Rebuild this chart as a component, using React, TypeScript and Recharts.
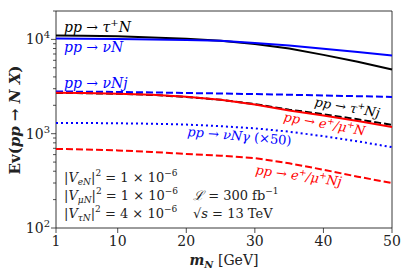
import React from "react";
import { LineChart, Line, XAxis, YAxis, ReferenceArea } from "recharts";

const masses = [1, 5, 10, 15, 20, 25, 30, 35, 40, 45, 50];
const tauN = [11000, 10950, 10800, 10500, 10150, 9700, 8950, 8000, 6850, 5800, 4800];
const nuN = [10200, 10150, 10100, 10000, 9850, 9650, 9150, 8600, 7950, 7350, 6750];
const nuNj = [2800, 2790, 2770, 2740, 2700, 2670, 2630, 2590, 2540, 2500, 2450];
const tauNj = [2700, 2690, 2650, 2580, 2450, 2290, 2060, 1800, 1610, 1420, 1240];
const lepN = [2720, 2700, 2660, 2590, 2460, 2290, 2040, 1760, 1560, 1360, 1180];
const nuNgamma = [1300, 1298, 1290, 1275, 1250, 1200, 1140, 1050, 940, 830, 720];
const lepNj = [690, 680, 665, 640, 610, 585, 550, 485, 415, 350, 300];

const xTicks = [1, 10, 20, 30, 40, 50];
const yTicks = [
  100, 200, 300, 400, 500, 600, 700, 800, 900,
  1000, 2000, 3000, 4000, 5000, 6000, 7000, 8000, 9000,
  10000, 20000,
];

const data = masses.map((m, i) => ({
  m,
  tauN: tauN[i],
  nuN: nuN[i],
  nuNj: nuNj[i],
  tauNj: tauNj[i],
  lepN: lepN[i],
  nuNgamma: nuNgamma[i],
  lepNj: lepNj[i],
}));

const SERIF = "'DejaVu Serif', 'Liberation Serif', serif";
const BLUE = "#0000ff";
const RED = "#ff0000";
const INK = "#222";

const YTick = ({ x, y, payload }: any) => {
  const lg = Math.log10(payload.value);
  const exp = Math.round(lg);
  const major = Math.abs(lg - exp) < 1e-6;
  return (
    <g>
      <line x1={x} x2={x - (major ? 5 : 3)} y1={y} y2={y} stroke={INK} strokeWidth={0.8} />
      {major && (
        <text x={x - 6} y={y + 5} textAnchor="end" fontSize={14} fontFamily={SERIF} fill={INK}>
          10
          <tspan dy={-6} fontSize={10}>{exp}</tspan>
        </text>
      )}
    </g>
  );
};

const XTick = ({ x, y, payload }: any) => (
  <g>
    <line x1={x} x2={x} y1={y} y2={y + 5} stroke={INK} strokeWidth={0.8} />
    <text x={x} y={y + 18} textAnchor="middle" fontSize={14} fontFamily={SERIF} fill={INK}>
      {payload.value}
    </text>
  </g>
);

const Proc = ({ x, y, color, size = 14, rot = 0, children }: any) => (
  <text
    x={x}
    y={y}
    fill={color}
    fontSize={size}
    fontFamily={SERIF}
    fontStyle="italic"
    transform={rot ? `rotate(${rot} ${x} ${y})` : undefined}
  >
    {children}
  </text>
);

const Coupling = ({ y, sub, val }: any) => (
  <text x={64} y={y}>
    |<tspan fontStyle="italic">V</tspan>
    <tspan fontStyle="italic" fontSize={9} dy={3}>{sub}</tspan>
    <tspan dy={-3}>|</tspan>
    <tspan fontSize={9} dy={-6}>2</tspan>
    <tspan dy={6}> = {val} × 10</tspan>
    <tspan fontSize={9} dy={-6}>−6</tspan>
  </text>
);

export default function App() {
  return (
    <div style={{ position: "absolute", left: 0, top: 0, width: 407, height: 279, background: "#fff" }}>
      <LineChart width={407} height={279} data={data} margin={{ top: 11, right: 15, left: 0, bottom: 0 }}>
        <XAxis
          dataKey="m"
          type="number"
          domain={[1, 50]}
          ticks={xTicks}
          tick={<XTick />}
          tickSize={0}
          tickMargin={0}
          tickLine={false}
          axisLine={false}
          height={51}
          interval={0}
        />
        <YAxis
          scale="log"
          type="number"
          domain={[100, 20000]}
          ticks={yTicks}
          tick={<YTick />}
          tickSize={0}
          tickMargin={0}
          tickLine={false}
          axisLine={false}
          width={56}
          interval={0}
          allowDataOverflow
        />
        <ReferenceArea x1={1} x2={50} y1={100} y2={20000} fill="none" stroke={INK} strokeWidth={0.9} ifOverflow="visible" />
        <Line dataKey="tauN" stroke="#000" strokeWidth={2} dot={false} isAnimationActive={false} />
        <Line dataKey="nuN" stroke={BLUE} strokeWidth={2} dot={false} isAnimationActive={false} />
        <Line dataKey="tauNj" stroke="#000" strokeWidth={2} strokeDasharray="7 3" dot={false} isAnimationActive={false} />
        <Line dataKey="nuNj" stroke={BLUE} strokeWidth={2} strokeDasharray="7 3" dot={false} isAnimationActive={false} />
        <Line dataKey="lepN" stroke={RED} strokeWidth={2} dot={false} isAnimationActive={false} />
        <Line dataKey="nuNgamma" stroke={BLUE} strokeWidth={2} strokeDasharray="2 3" dot={false} isAnimationActive={false} />
        <Line dataKey="lepNj" stroke={RED} strokeWidth={2} strokeDasharray="7 3" dot={false} isAnimationActive={false} />
      </LineChart>
      <svg width={407} height={279} style={{ position: "absolute", left: 0, top: 0, pointerEvents: "none" }}>
        <text
          x={20}
          y={120}
          transform="rotate(-90 20 120)"
          textAnchor="middle"
          fontSize={15}
          fontWeight="bold"
          fontFamily={SERIF}
          fill={INK}
        >
          Ev(<tspan fontStyle="italic">pp</tspan> → <tspan fontStyle="italic">N X</tspan>)
        </text>
        <text x={224} y={265} textAnchor="middle" fontSize={14} fontFamily={SERIF} fill={INK}>
          <tspan fontStyle="italic" fontWeight="bold">m</tspan>
          <tspan fontStyle="italic" fontWeight="bold" fontSize={10} dy={3}>N</tspan>
          <tspan dy={-3}> [GeV]</tspan>
        </text>

        <Proc x={64} y={32} color="#000">
          pp → τ<tspan fontSize={10} dy={-6}>+</tspan><tspan dy={6}>N</tspan>
        </Proc>
        <Proc x={64} y={52} color={BLUE}>pp → νN</Proc>
        <Proc x={64} y={88} color={BLUE}>pp → νNj</Proc>
        <Proc x={314} y={106} color="#000" size={13} rot={10}>
          pp → τ<tspan fontSize={9} dy={-5}>+</tspan><tspan dy={5}>Nj</tspan>
        </Proc>
        <Proc x={283} y={121} color={RED} size={13} rot={10}>
          pp → e<tspan fontSize={9} dy={-5}>+</tspan><tspan dy={5}>/μ</tspan>
          <tspan fontSize={9} dy={-5}>+</tspan><tspan dy={5}>N</tspan>
        </Proc>
        <Proc x={187} y={136} color={BLUE} size={13} rot={5}>
          pp → νNγ <tspan fontStyle="normal">(×50)</tspan>
        </Proc>
        <Proc x={255} y={174} color={RED} size={13} rot={8}>
          pp → e<tspan fontSize={9} dy={-5}>+</tspan><tspan dy={5}>/μ</tspan>
          <tspan fontSize={9} dy={-5}>+</tspan><tspan dy={5}>Nj</tspan>
        </Proc>

        <g fontFamily={SERIF} fontSize={13} fill={INK}>
          <Coupling y={182} sub="eN" val="1" />
          <Coupling y={200} sub="μN" val="1" />
          <Coupling y={218} sub="τN" val="4" />
          <text x={193} y={200}>
            <tspan fontStyle="italic">ℒ</tspan> = 300 fb
            <tspan fontSize={9} dy={-6}>−1</tspan>
          </text>
          <text x={193} y={218}>
            √<tspan fontStyle="italic">s</tspan> = 13 TeV
          </text>
        </g>
      </svg>
    </div>
  );
}
